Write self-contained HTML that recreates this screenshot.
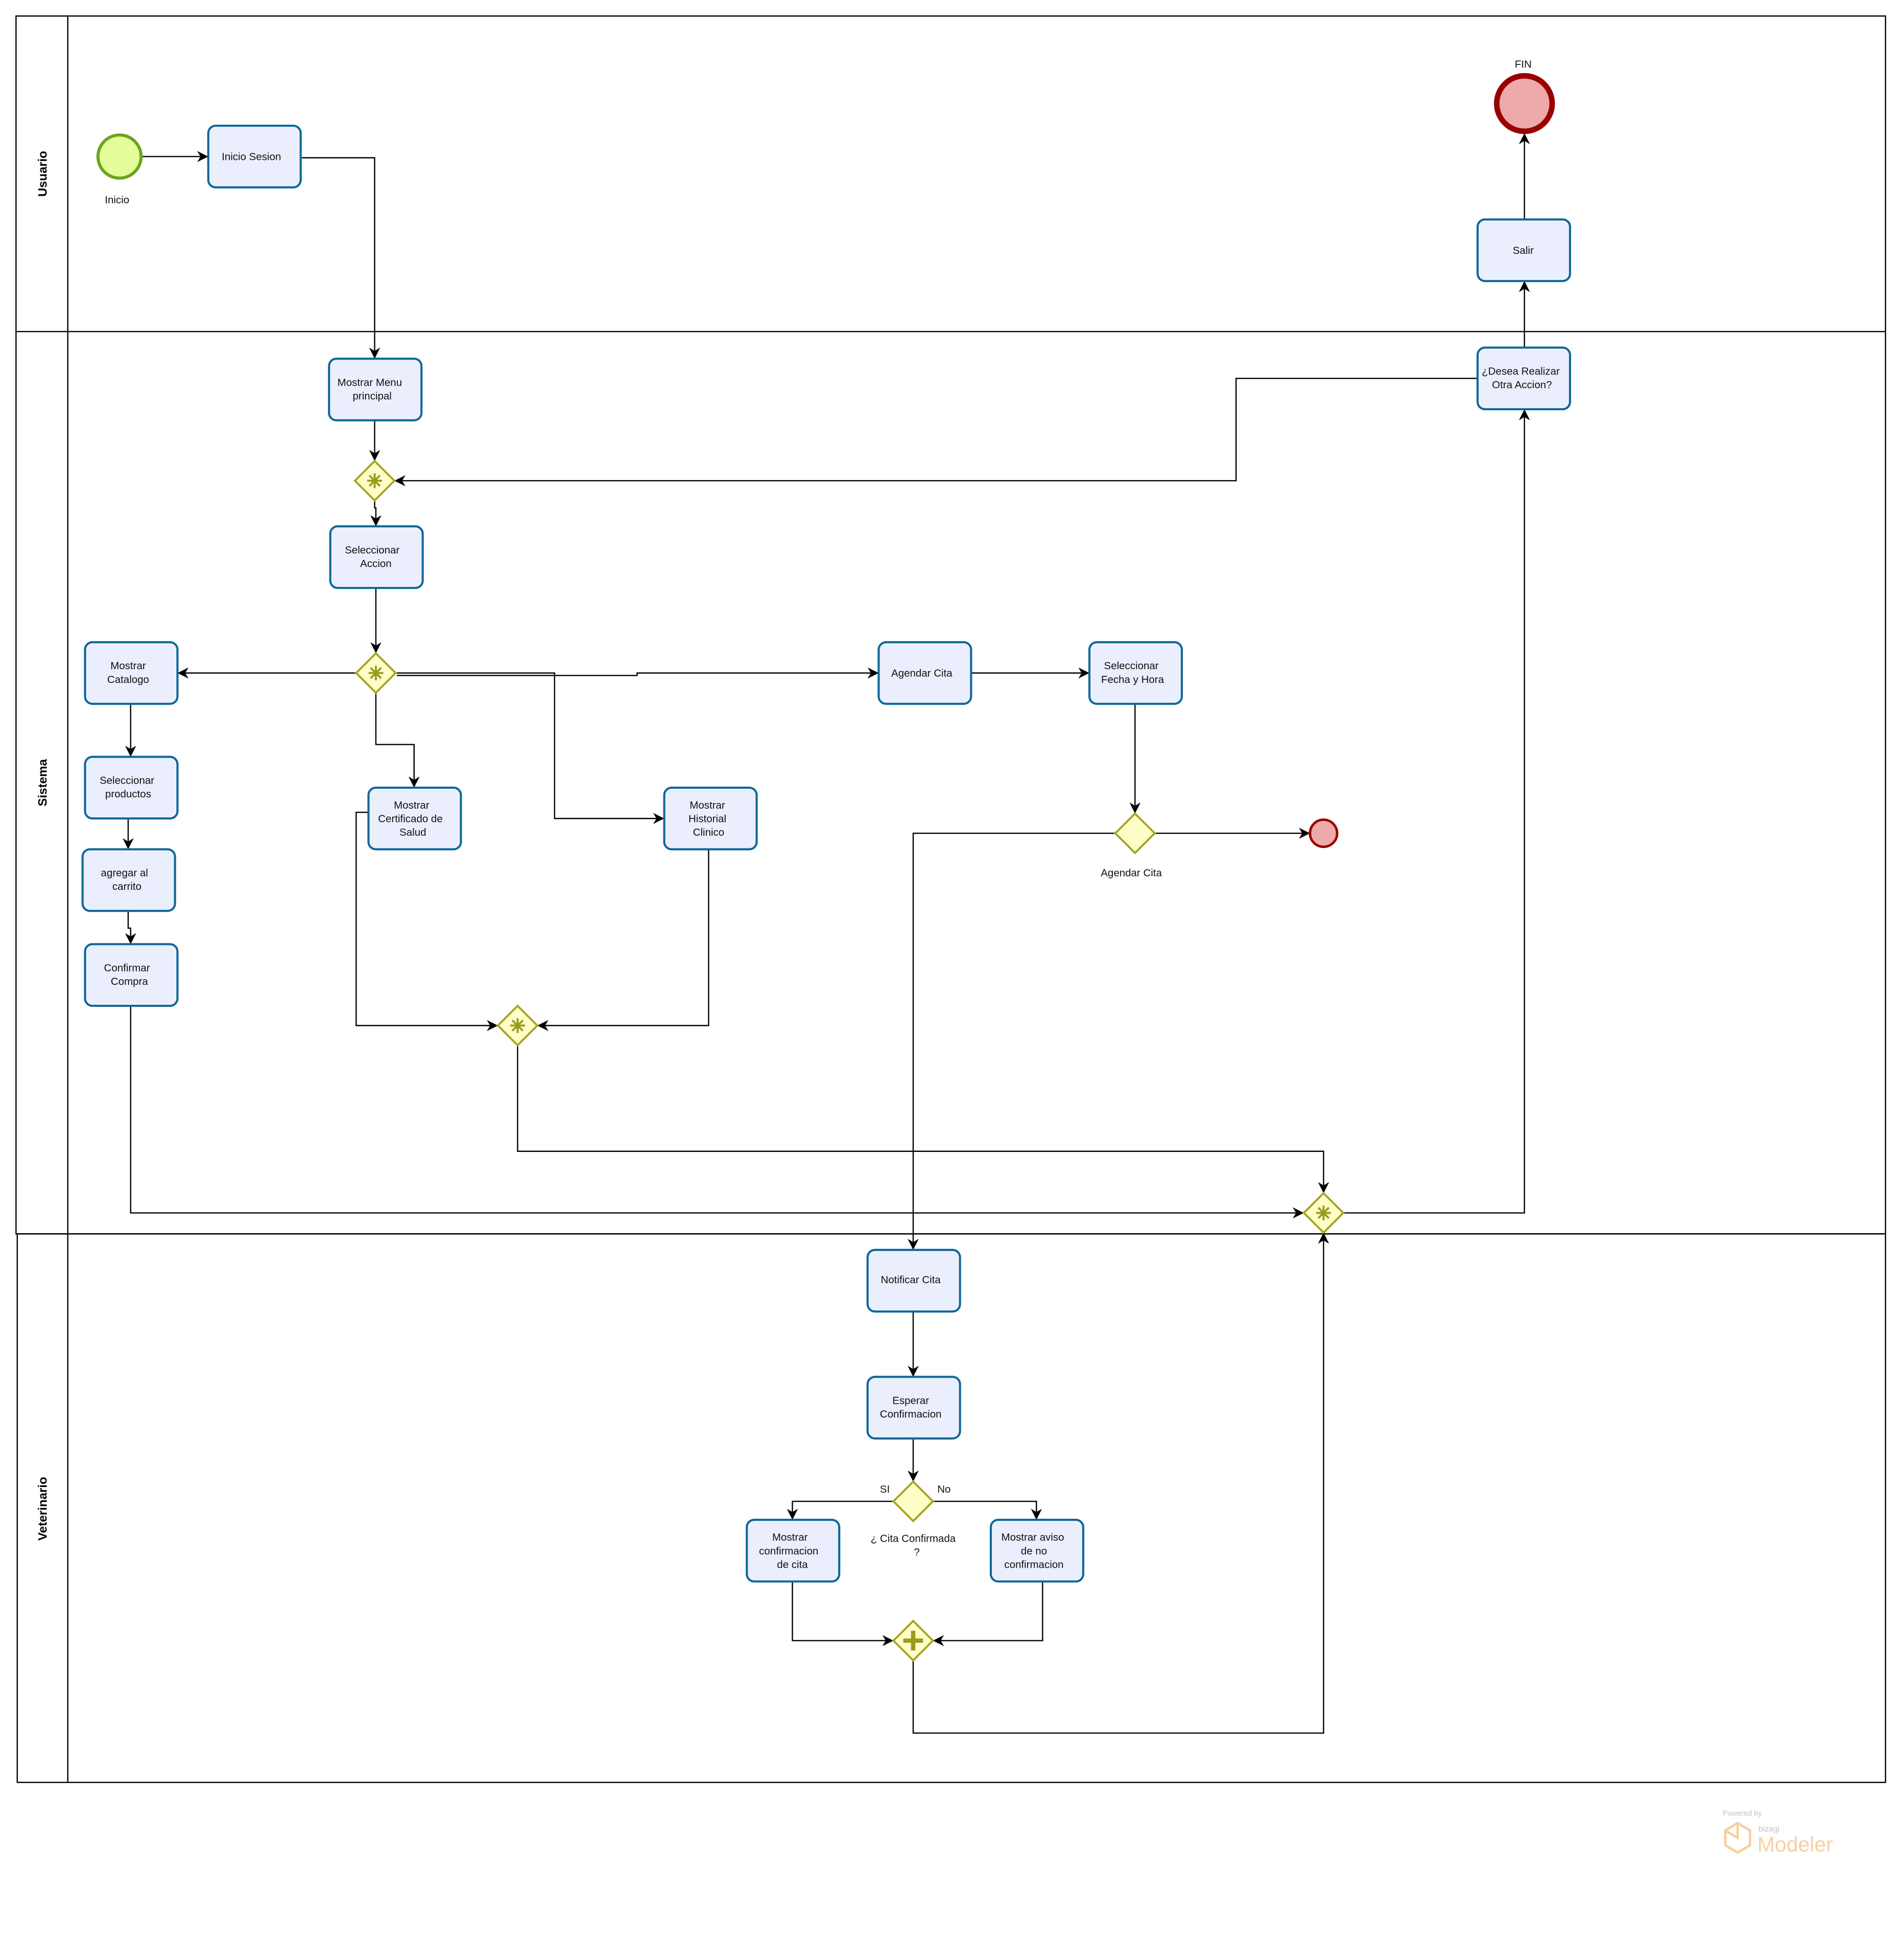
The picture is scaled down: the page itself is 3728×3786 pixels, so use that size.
<!DOCTYPE html>
<html><head><meta charset="utf-8"><style>html,body{margin:0;padding:0;background:#fff}svg{display:block}</style></head>
<body>
<svg xmlns="http://www.w3.org/2000/svg" width="3728" height="3786" viewBox="0 0 1545 1569" preserveAspectRatio="none" font-family="Liberation Sans, sans-serif">
<defs>
<marker id="a" viewBox="0 0 10 10" refX="10" refY="5" markerWidth="9" markerHeight="9" markerUnits="userSpaceOnUse" orient="auto"><path d="M0,0 L10,5 L0,10 L3,5 z" fill="#000"/></marker>
</defs>
<rect width="1545" height="1569" fill="#fff"/>
<!-- pool -->
<g fill="none" stroke="#000" stroke-width="1">
<rect x="13" y="13" width="1517" height="988"/>
<rect x="14" y="1001" width="1516" height="445"/>
<line x1="13" y1="269" x2="1530" y2="269"/>
<line x1="55" y1="13" x2="55" y2="1446"/>
</g>
<g font-weight="bold" font-size="10" text-anchor="middle">
<text transform="translate(38,141) rotate(-90)">Usuario</text>
<text transform="translate(38,635) rotate(-90)">Sistema</text>
<text transform="translate(38,1224) rotate(-90)">Veterinario</text>
</g>
<!-- connectors -->
<g fill="none" stroke="#000" stroke-width="1" marker-end="url(#a)">
<path d="M115,127 H169"/>
<path d="M245,128 H304 V291"/>
<path d="M304,341 V374"/>
<path d="M304,406 V412 H305 V427"/>
<path d="M1199,307 H1003 V390 H320"/>
<path d="M305,477 V530"/>
<path d="M289,546 H144"/>
<path d="M305,562 V604 H336 V639"/>
<path d="M322,546 H450 V664 H539"/>
<path d="M322,548 H517 V546 H713"/>
<path d="M788,546 H884"/>
<path d="M921,571 V660"/>
<path d="M937,676 H1063"/>
<path d="M905,676 H741 V1014"/>
<path d="M106,571 V614"/>
<path d="M104,664 V689"/>
<path d="M104,739 V753 H106 V766"/>
<path d="M106,816 V984 H1058"/>
<path d="M299,659 H289 V832 H404"/>
<path d="M575,689 V832 H436"/>
<path d="M420,848 V934 H1074 V968"/>
<path d="M1090,984 H1237 V332"/>
<path d="M1237,282 V228"/>
<path d="M1237,178 V108"/>
<path d="M741,1064 V1117"/>
<path d="M741,1167 V1202"/>
<path d="M725,1218 H643 V1233"/>
<path d="M757,1218 H841 V1233"/>
<path d="M643,1283 V1331 H725"/>
<path d="M846,1283 V1331 H757"/>
<path d="M741,1347 V1406 H1074 V1000"/>
</g>
<!-- events -->
<circle cx="97" cy="127" r="17.5" fill="#e4fd98" stroke="#6aa51e" stroke-width="2.5"/>
<circle cx="1237" cy="84" r="22.5" fill="#eeaaaa" stroke="#990000" stroke-width="4.5"/>
<circle cx="1074" cy="676" r="11" fill="#eeaaaa" stroke="#990000" stroke-width="2"/>
<!-- tasks -->
<g fill="#ebeffd" stroke="#0e6799" stroke-width="1.7">
<rect x="169" y="102" width="75" height="50" rx="6"/>
<rect x="1199" y="178" width="75" height="50" rx="6"/>
<rect x="267" y="291" width="75" height="50" rx="6"/>
<rect x="268" y="427" width="75" height="50" rx="6"/>
<rect x="1199" y="282" width="75" height="50" rx="6"/>
<rect x="69" y="521" width="75" height="50" rx="6"/>
<rect x="69" y="614" width="75" height="50" rx="6"/>
<rect x="67" y="689" width="75" height="50" rx="6"/>
<rect x="69" y="766" width="75" height="50" rx="6"/>
<rect x="299" y="639" width="75" height="50" rx="6"/>
<rect x="539" y="639" width="75" height="50" rx="6"/>
<rect x="713" y="521" width="75" height="50" rx="6"/>
<rect x="884" y="521" width="75" height="50" rx="6"/>
<rect x="704" y="1014" width="75" height="50" rx="6"/>
<rect x="704" y="1117" width="75" height="50" rx="6"/>
<rect x="606" y="1233" width="75" height="50" rx="6"/>
<rect x="804" y="1233" width="75" height="50" rx="6"/>
</g>
<!-- gateways -->
<g fill="#fefec8" stroke="#a5a51e" stroke-width="1.6">
<path d="M304,374 L320,390 L304,406 L288,390 z"/>
<path d="M305,530 L321,546 L305,562 L289,546 z"/>
<path d="M420,816 L436,832 L420,848 L404,832 z"/>
<path d="M1074,968 L1090,984 L1074,1000 L1058,984 z"/>
<path d="M921,660 L937,676 L921,692 L905,676 z"/>
<path d="M741,1202 L757,1218 L741,1234 L725,1218 z"/>
<path d="M741,1315 L757,1331 L741,1347 L725,1331 z"/>
</g>
<g stroke="#9a9a1e" stroke-width="1.6">
<g transform="translate(304,390)"><line x1="0" y1="-6" x2="0" y2="6"/><line x1="-6" y1="0" x2="6" y2="0"/><line x1="-4.3" y1="-4.3" x2="4.3" y2="4.3"/><line x1="-4.3" y1="4.3" x2="4.3" y2="-4.3"/></g>
<g transform="translate(305,546)"><line x1="0" y1="-6" x2="0" y2="6"/><line x1="-6" y1="0" x2="6" y2="0"/><line x1="-4.3" y1="-4.3" x2="4.3" y2="4.3"/><line x1="-4.3" y1="4.3" x2="4.3" y2="-4.3"/></g>
<g transform="translate(420,832)"><line x1="0" y1="-6" x2="0" y2="6"/><line x1="-6" y1="0" x2="6" y2="0"/><line x1="-4.3" y1="-4.3" x2="4.3" y2="4.3"/><line x1="-4.3" y1="4.3" x2="4.3" y2="-4.3"/></g>
<g transform="translate(1074,984)"><line x1="0" y1="-6" x2="0" y2="6"/><line x1="-6" y1="0" x2="6" y2="0"/><line x1="-4.3" y1="-4.3" x2="4.3" y2="4.3"/><line x1="-4.3" y1="4.3" x2="4.3" y2="-4.3"/></g>
<g transform="translate(741,1331)" stroke-width="3.5"><line x1="0" y1="-8" x2="0" y2="8"/><line x1="-8" y1="0" x2="8" y2="0"/></g>
</g>
<!-- text -->
<g font-size="8.5" text-anchor="middle" fill="#111">
<text x="95" y="165">Inicio</text>
<text x="1236" y="55">FIN</text>
<text x="204" y="130">Inicio Sesion</text>
<text x="1236" y="206">Salir</text>
<text x="300" y="313">Mostrar Menu</text><text x="302" y="324">principal</text>
<text x="302" y="449">Seleccionar</text><text x="305" y="460">Accion</text>
<text x="1234" y="304">¿Desea Realizar</text><text x="1235" y="315">Otra Accion?</text>
<text x="104" y="543">Mostrar</text><text x="104" y="554">Catalogo</text>
<text x="103" y="636">Seleccionar</text><text x="104" y="647">productos</text>
<text x="101" y="711">agregar al</text><text x="103" y="722">carrito</text>
<text x="103" y="788">Confirmar</text><text x="105" y="799">Compra</text>
<text x="334" y="656">Mostrar</text><text x="333" y="667">Certificado de</text><text x="335" y="678">Salud</text>
<text x="574" y="656">Mostrar</text><text x="574" y="667">Historial</text><text x="575" y="678">Clinico</text>
<text x="748" y="549">Agendar Cita</text>
<text x="918" y="543">Seleccionar</text><text x="919" y="554">Fecha y Hora</text>
<text x="918" y="711">Agendar Cita</text>
<text x="739" y="1041">Notificar Cita</text>
<text x="739" y="1139">Esperar</text><text x="739" y="1150">Confirmacion</text>
<text x="718" y="1211">SI</text><text x="766" y="1211">No</text>
<text x="741" y="1251">¿ Cita Confirmada</text><text x="744" y="1262">?</text>
<text x="641" y="1250">Mostrar</text><text x="640" y="1261">confirmacion</text><text x="643" y="1272">de cita</text>
<text x="838" y="1250">Mostrar aviso</text><text x="839" y="1261">de no</text><text x="839" y="1272">confirmacion</text>
</g>
<!-- logo -->
<g opacity="0.6">
<text x="1398" y="1473" font-size="6" fill="#999">Powered by</text>
<text x="1427" y="1486" font-size="6.5" fill="#999">bizagi</text>
<text x="1426" y="1502" font-size="17" fill="#f5b060">Modeler</text>
<path d="M1410,1479 L1420,1485 L1420,1497 L1410,1503 L1400,1497 L1400,1485 z M1400,1485 L1410,1491 L1410,1480" fill="none" stroke="#f5b060" stroke-width="2"/>
</g>
</svg>
</body></html>
